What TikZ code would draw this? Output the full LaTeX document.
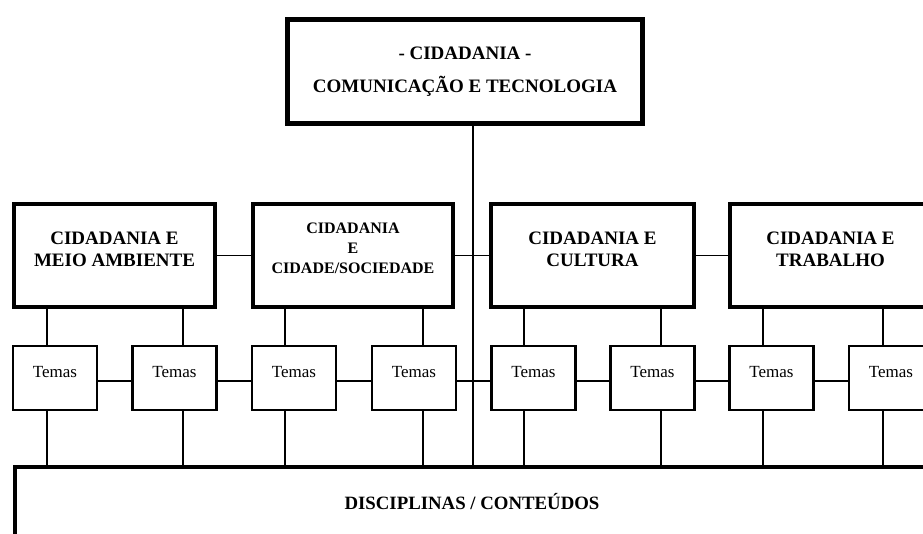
\documentclass[tikz,border=0pt]{standalone}
\usepackage{fontspec}
\setmainfont{Liberation Serif}
\begin{document}
\begin{tikzpicture}[x=1pt,y=-1pt,
  topbox/.style={draw, line width=4.5pt, minimum width=355pt, minimum height=104pt, inner sep=0pt, align=center, font=\bfseries\fontsize{19}{33}\selectfont},
  lbox/.style={draw, line width=4.5pt, minimum height=103pt, inner sep=0pt},
  ltext/.style={font=\bfseries\fontsize{19}{22}\selectfont, align=center, yshift=6.5pt},
  ltextsmall/.style={font=\bfseries\fontsize{16}{20}\selectfont, align=center, yshift=7pt},
  tbox/.style={draw, line width=2.2pt, minimum width=84pt, minimum height=64pt, inner sep=0pt},
  ttext/.style={font=\fontsize{17}{20}\selectfont, yshift=6pt},
  discbox/.style={draw, line width=4.5pt, minimum width=914pt, minimum height=70pt, inner sep=0pt, font=\bfseries\fontsize{18.8}{22}\selectfont},
  link/.style={line width=1.8pt},
  spineline/.style={line width=2.5pt}
]
\useasboundingbox (0,0) rectangle (923,533);
\fill[white] (0,0) rectangle (923,533);
\clip (0,0) rectangle (923,533);

% top
\node[topbox] (top) at (465,71.5) {- CIDADANIA -\\COMUNICAÇÃO E TECNOLOGIA};

% level 2
\node[lbox, minimum width=201pt, label={[ltext]center:{CIDADANIA E\\MEIO AMBIENTE}}] (b1) at (114.5,255.5) {};
\node[lbox, minimum width=200pt, label={[ltextsmall]center:{CIDADANIA\\E\\CIDADE/SOCIEDADE}}] (b2) at (353,255.5) {};
\node[lbox, minimum width=203pt, label={[ltext]center:{CIDADANIA E\\CULTURA}}] (b3) at (592.5,255.5) {};
\node[lbox, minimum width=201pt, label={[ltext]center:{CIDADANIA E\\TRABALHO}}] (b4) at (830.5,255.5) {};

% temas
\foreach \i/\cx in {1/55,2/174.5,3/294,4/414,5/533.5,6/652.5,7/771.5,8/891}
  \node[tbox, label={[ttext]center:Temas}] (t\i) at (\cx,378) {};

% bottom
\node[discbox] (disc) at (472,502) {DISCIPLINAS / CONTEÚDOS};

% spine
\coordinate (spine) at (473,0);
\draw[spineline] (top.south -| spine) -- (disc.north -| spine);

% level 2 links
\draw[link] (b1.east) -- (b2.west);
\draw[link] (b2.east) -- (b3.west);
\draw[link] (b3.east) -- (b4.west);

% drops
\foreach \i/\p/\dx in {1/b1/47,2/b1/183,3/b2/285,4/b2/423,5/b3/524,6/b3/661,7/b4/763,8/b4/883}{
  \coordinate (d\i) at (\dx,0);
  \draw[link] (\p.south -| d\i) -- (t\i.north -| d\i);
  \draw[link] (t\i.south -| d\i) -- (disc.north -| d\i);
}

% temas links
\foreach \a/\b in {1/2,2/3,3/4,4/5,5/6,6/7,7/8}
  \draw[link] ([yshift=-3pt]t\a.east) -- ([yshift=-3pt]t\b.west);
\end{tikzpicture}
\end{document}
